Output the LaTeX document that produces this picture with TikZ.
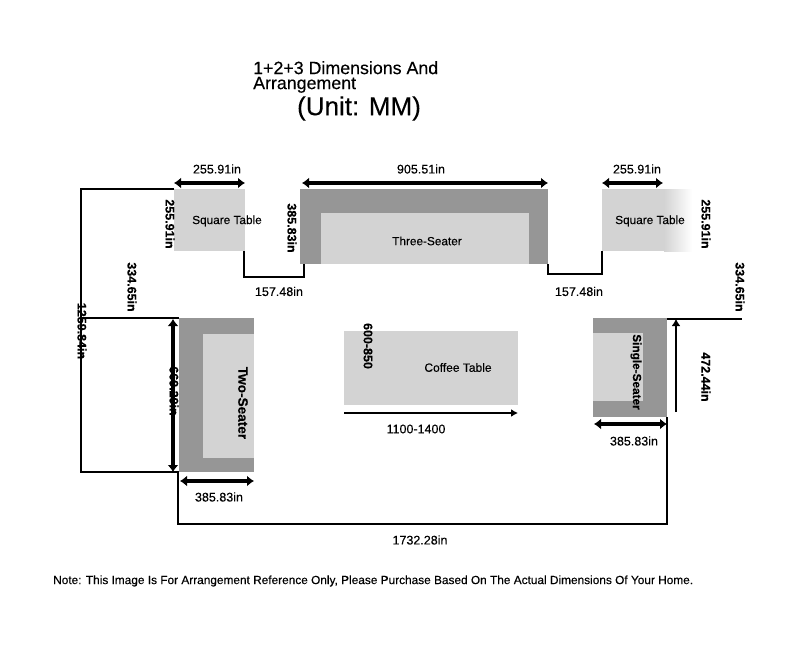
\documentclass[tikz,border=0pt]{standalone}
\usepackage{fontspec}
\setmainfont[FakeBold=0.25]{Liberation Sans}
\usetikzlibrary{arrows.meta}
\definecolor{tablegrey}{HTML}{D3D3D3}
\definecolor{armgrey}{HTML}{969696}
\tikzset{
  piece/.style={anchor=north west, inner sep=0pt, outer sep=0pt, minimum width=#1},
  tablebox/.style={fill=tablegrey},
  armbox/.style={fill=armgrey},
  dimline/.style={line width=1.7pt, line join=miter},
  dimarrow/.style={line width=4.2pt, {Latex[length=7pt,width=11pt]}-{Latex[length=7pt,width=11pt]}},
  dimlabel/.style={font=\fontsize{12.5}{12}\selectfont, inner sep=0pt},
  sidelabel/.style={font=\fontsize{12.5}{12}\selectfont\bfseries, inner sep=0pt, rotate=-90},
  namelabel/.style={font=\fontsize{11.8}{12}\selectfont, inner sep=0pt},
}
\begin{document}
\begin{tikzpicture}[x=1pt,y=-1pt]
    \useasboundingbox (0,0) rectangle (790,653);
    % Draw the title
    \node[anchor=north west, inner sep=0pt, align=left, font=\fontsize{17.8}{15}\selectfont] (title) at (253,61) {1+2+3 Dimensions And\\Arrangement};
    \node[inner sep=0pt, font=\fontsize{26}{26}\selectfont] (unit) at (359,108.5) {(Unit: MM)};
    % Draw the square tables
    \node[piece=71pt, minimum height=62pt, tablebox] (sqleft) at (174,189) {};
    \fill[left color=tablegrey, right color=white] (664,189) rectangle (692,251);
    \node[piece=63pt, minimum height=62pt, tablebox] (sqright) at (602,189) {};
    % Draw the sofas
    \node[piece=248pt, minimum height=75pt, armbox] (three) at (300,189) {};
    \node[piece=208pt, minimum height=51pt, tablebox] (threein) at (321,213) {};
    \node[piece=75pt, minimum height=154pt, armbox] (two) at (179,318) {};
    \node[piece=51pt, minimum height=124pt, tablebox] (twoin) at (203,334) {};
    \node[piece=74pt, minimum height=99pt, armbox] (single) at (593,318) {};
    \node[piece=50pt, minimum height=68pt, tablebox] (singlein) at (593,333) {};
    % Draw the coffee table
    \node[piece=174pt, minimum height=74pt, tablebox] (coffee) at (344,331) {};
    % Free ends of the lines
    \coordinate (farleft) at (81,189);
    \coordinate (farleftb) at (81,472);
    \coordinate (farright) at (742,319);
    \coordinate (gapa) at (244,277);
    \coordinate (gapb) at (304,277);
    \coordinate (gapc) at (548,274);
    \coordinate (gapd) at (602,274);
    \coordinate (longa) at (178,524);
    \coordinate (longb) at (667,524);
    \coordinate (covera) at (344,413);
    \coordinate (coverb) at (518,413);
    \coordinate (risea) at (676,412);
    \coordinate (riseb) at (676,319);
    % Draw the outer dimension lines
    \draw[dimline] (sqleft.north west) -- (farleft) -- (farleftb) -- (two.south west);
    \draw[dimline] (farleft |- two.north west) -- (two.north west);
    \draw[dimline] (667,319) -- (farright);
    \draw[dimline] (longa |- two.south) -- (longa) -- (longb) -- (single.south east);
    % Draw the gaps beside the three-seater
    \draw[dimline] (gapa |- sqleft.south) -- (gapa) -- (gapb) -- (gapb |- three.south);
    \draw[dimline] (three.south east) -- (gapc) -- (gapd) -- (sqright.south west);
    % Draw the double arrows
    \draw[dimarrow] (174,183) -- (245,183);
    \draw[dimarrow] (302,183) -- (548,183);
    \draw[dimarrow] (602,183) -- (663,183);
    \draw[dimarrow] (173,319) -- (173,472);
    \draw[dimarrow] (180,481) -- (254,481);
    \draw[dimarrow] (594,424) -- (667,424);
    % Draw the single arrows
    \draw[line width=2.5pt, -{Latex[length=7pt,width=8pt]}] (covera) -- (coverb);
    \draw[line width=2.5pt, -{Latex[length=7pt,width=9pt]}] (risea) -- (riseb);
    % Label the widths
    \node[dimlabel] (wsqleft) at (217,169) {255.91in};
    \node[dimlabel] (wthree) at (421,169) {905.51in};
    \node[dimlabel] (wsqright) at (637,169) {255.91in};
    \node[dimlabel] (gapleft) at (279,291.5) {157.48in};
    \node[dimlabel] (gapright) at (579,291.5) {157.48in};
    \node[dimlabel] (wcoffee) at (416,429) {1100-1400};
    \node[dimlabel] (wsingle) at (634,441) {385.83in};
    \node[dimlabel] (wtwo) at (219,497) {385.83in};
    \node[dimlabel] (wlong) at (420,540) {1732.28in};
    % Label the heights
    \node[sidelabel] (hsqleft) at (170,224) {255.91in};
    \node[sidelabel] (hthree) at (292,228) {385.83in};
    \node[sidelabel] (hsqright) at (706,224) {255.91in};
    \node[sidelabel] (hgapleft) at (132,287) {334.65in};
    \node[sidelabel] (hgapright) at (740,287) {334.65in};
    \node[sidelabel] (hlong) at (82,331) {1259.84in};
    \node[sidelabel] (htwo) at (174,391) {669.29in};
    \node[sidelabel] (hcoffee) at (368,346) {600-850};
    \node[sidelabel] (hsingle) at (706,377) {472.44in};
    % Label the pieces
    \node[namelabel] (nsqleft) at (227,221) {Square Table};
    \node[namelabel] (nsqright) at (650,221) {Square Table};
    \node[namelabel] (nthree) at (427,241) {Three-Seater};
    \node[namelabel, font=\fontsize{12}{12}\selectfont] (ncoffee) at (458,367.5) {Coffee Table};
    \node[namelabel, font=\fontsize{13.6}{12}\selectfont\bfseries, rotate=-90] (ntwo) at (243,403) {Two-Seater};
    \node[namelabel, font=\fontsize{11.8}{12}\selectfont\bfseries, rotate=-90] (nsingle) at (636,372) {Single-Seater};
    % Draw the note
    \node[anchor=west, inner sep=0pt, font=\fontsize{11.85}{12}\selectfont] (note) at (53,581) {Note: This Image Is For Arrangement Reference Only, Please Purchase Based On The Actual Dimensions Of Your Home.};
\end{tikzpicture}
\end{document}
